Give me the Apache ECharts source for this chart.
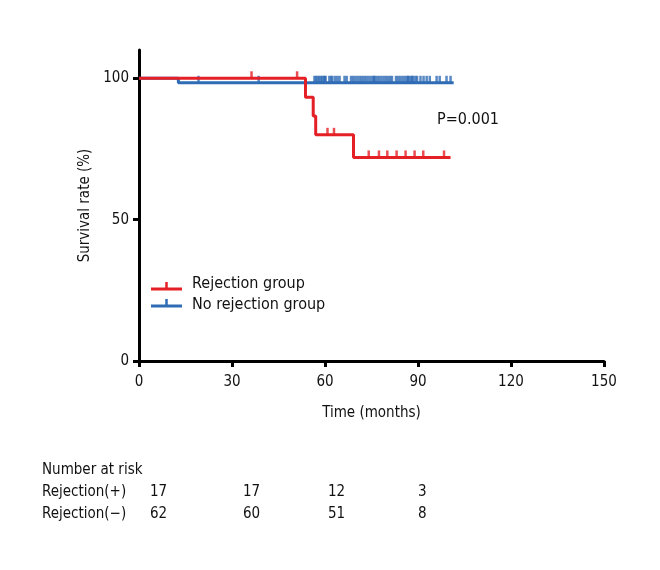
<!DOCTYPE html>
<html><head><meta charset="utf-8">
<script src="https://cdn.jsdelivr.net/npm/echarts@6/dist/echarts.min.js"></script>
<style>html,body{margin:0;padding:0;background:#fff}#c{width:660px;height:570px}</style>
</head><body><div id="c"></div>
<script>
// ---- data ----
const xTicks = [0, 30, 60, 90, 120, 150];
const yTicks = [0, 50, 100];
const redStepTimes = [0, 53.7, 56.2, 57.0, 69.2, 100.5];
const redStepSurv  = [100, 93.3, 86.7, 80, 72, 72];
const blueStepTimes = [0, 12.7, 101.5];
const blueStepSurv  = [100, 98.4, 98.4];
const redCensor = [36.3, 51.0, 60.8, 62.9, 74.1, 77.4, 80.1, 83.1, 86.0, 88.9, 91.7, 98.4];
const blueCensor = [19.2, 38.6,
  56.6, 57.1, 57.6, 58.1, 58.6, 59.1, 59.6, 59.9,
  60.2, 61.4, 62.0, 62.4, 63.3, 64.0, 64.7, 66.3, 67.0, 68.4, 69.1, 69.8, 70.5, 71.2,
  71.9, 72.6, 73.3, 74.0, 74.7, 75.4, 75.8, 76.1, 76.8, 77.5, 78.2, 78.9, 79.6, 80.3,
  81.0, 81.6, 82.9, 83.6, 84.3, 85.0, 85.7, 86.4, 86.8, 87.1, 87.8, 88.1, 88.5, 89.2, 89.7,
  90.8, 91.8, 92.8, 93.8, 96.0, 97.0, 99.2, 100.5];
const riskLabels = ['Rejection(+)', 'Rejection(\u2212)'];
const riskPlus  = [17, 17, 12, 3];
const riskMinus = [62, 60, 51, 8];
const seriesNames = ['Rejection group', 'No rejection group'];
const pValueText = 'P=0.001';

// ---- style ----
const RED = '#e41f26', BLUE = '#2f6cb5';
const FONT = "'Liberation Sans Narrow', 'DejaVu Sans Condensed', sans-serif";

function survAt(times, survs, t) {
  let s = survs[0];
  for (let i = 0; i < times.length; i++) if (times[i] <= t) s = survs[i];
  return s;
}
const redLine = redStepTimes.map((t, i) => [t, redStepSurv[i]]);
const blueLine = blueStepTimes.map((t, i) => [t, blueStepSurv[i]]);
const redMarks = redCensor.map(t => [t, survAt(redStepTimes, redStepSurv, t)]);
const blueMarks = blueCensor.map(t => [t, survAt(blueStepTimes, blueStepSurv, t)]);

const chart = echarts.init(document.getElementById('c'), null, {renderer: 'canvas'});

const riskCols = [150, 243, 328, 418];
const graphics = [
  {type: 'text', left: 437, top: 112, style: {text: pValueText, font: '16px ' + FONT, fill: '#111'}},
  // legend
  {type: 'line', shape: {x1: 151, y1: 289, x2: 182, y2: 289}, style: {stroke: RED, lineWidth: 3}},
  {type: 'line', shape: {x1: 166.5, y1: 282, x2: 166.5, y2: 289}, style: {stroke: RED, lineWidth: 2.5}},
  {type: 'text', left: 192, top: 276, style: {text: seriesNames[0], font: '16px ' + FONT, fill: '#111'}},
  {type: 'line', shape: {x1: 151, y1: 306, x2: 182, y2: 306}, style: {stroke: BLUE, lineWidth: 3}},
  {type: 'line', shape: {x1: 166.5, y1: 299, x2: 166.5, y2: 306}, style: {stroke: BLUE, lineWidth: 2.5}},
  {type: 'text', left: 192, top: 297, style: {text: seriesNames[1], font: '16px ' + FONT, fill: '#111'}},
  // risk table
  {type: 'text', left: 42, top: 463, style: {text: 'Number at risk', font: '15px ' + FONT, fill: '#111'}},
  {type: 'text', left: 42, top: 485, style: {text: riskLabels[0], font: '15px ' + FONT, fill: '#111'}},
  {type: 'text', left: 42, top: 507, style: {text: riskLabels[1], font: '15px ' + FONT, fill: '#111'}}
];
riskPlus.forEach((v, i) => graphics.push({type: 'text', left: riskCols[i], top: 485, style: {text: String(v), font: '15px ' + FONT, fill: '#111'}}));
riskMinus.forEach((v, i) => graphics.push({type: 'text', left: riskCols[i], top: 507, style: {text: String(v), font: '15px ' + FONT, fill: '#111'}}));

const axisCommon = {
  axisLine: {onZero: false, lineStyle: {color: '#000', width: 3}},
  axisTick: {length: 6, lineStyle: {color: '#000', width: 3}},
  splitLine: {show: false},
  axisLabel: {color: '#111', fontSize: 15, fontFamily: FONT}
};

chart.setOption({
  animation: false,
  backgroundColor: '#fff',
  grid: {left: 139, right: 56, top: 50, bottom: 209},
  xAxis: Object.assign({}, axisCommon, {
    type: 'value', min: 0, max: 150, interval: 30,
    name: 'Time (months)', nameLocation: 'middle', nameGap: 45,
    nameTextStyle: {color: '#111', fontSize: 15, fontFamily: FONT},
    axisLabel: Object.assign({}, axisCommon.axisLabel, {margin: 14, customValues: xTicks}),
    axisTick: Object.assign({}, axisCommon.axisTick, {customValues: xTicks})
  }),
  yAxis: Object.assign({}, axisCommon, {
    type: 'value', min: 0, max: 110, interval: 50,
    name: 'Survival rate (%)', nameLocation: 'middle', nameGap: 43, nameRotate: 90,
    nameTextStyle: {color: '#111', fontSize: 15, fontFamily: FONT},
    axisLabel: Object.assign({}, axisCommon.axisLabel, {margin: 10, customValues: yTicks}),
    axisTick: Object.assign({}, axisCommon.axisTick, {customValues: yTicks})
  }),
  series: [
    {name: seriesNames[1], type: 'line', step: 'end', data: blueLine, symbol: 'none',
     lineStyle: {color: BLUE, width: 3}, z: 2},
    {type: 'scatter', data: blueMarks, symbol: 'rect', symbolSize: [2.5, 7], symbolOffset: [0, -3.5],
     itemStyle: {color: BLUE}, z: 2},
    {name: seriesNames[0], type: 'line', step: 'end', data: redLine, symbol: 'none',
     lineStyle: {color: RED, width: 3}, z: 3},
    {type: 'scatter', data: redMarks, symbol: 'rect', symbolSize: [2.5, 7], symbolOffset: [0, -3.5],
     itemStyle: {color: RED}, z: 3}
  ],
  graphic: graphics
});
</script></body></html>
